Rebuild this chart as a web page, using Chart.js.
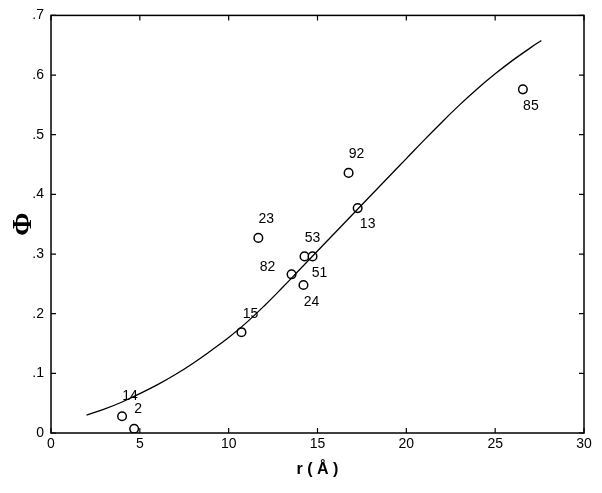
<!DOCTYPE html>
<html>
<head>
<meta charset="utf-8">
<script src="https://cdn.jsdelivr.net/npm/chart.js@4/dist/chart.umd.min.js"></script>
<style>
html,body{margin:0;padding:0;background:#fff;}
#wrap{width:602px;height:493px;}
</style>
</head>
<body>
<div id="wrap"><canvas id="c" width="602" height="493"></canvas></div>
<script>
// ---- data ----
const pointLabels = ["14", "2", "15", "23", "82", "53", "51", "24", "92", "13", "85"];
const pointR      = [4.0, 4.68, 10.72, 11.67, 13.54, 14.27, 14.72, 14.21, 16.75, 17.26, 26.56];
const pointPhi    = [0.028, 0.007, 0.169, 0.327, 0.266, 0.296, 0.296, 0.248, 0.436, 0.377, 0.576];

const curveR   = [2, 3, 4, 5, 6, 7, 8, 9, 10, 11, 12, 13, 14, 15, 16, 17, 18, 19, 20, 21, 22, 23, 24, 25, 26, 27, 27.6];
const curvePhi = [0.030, 0.040, 0.052, 0.066, 0.081, 0.098, 0.117, 0.138, 0.160, 0.185, 0.213, 0.243, 0.274, 0.305, 0.336, 0.367, 0.398, 0.429, 0.460, 0.491, 0.521, 0.550, 0.577, 0.602, 0.625, 0.646, 0.658];

const xTicks = [0, 5, 10, 15, 20, 25, 30];
const yTicks = [0, 0.1, 0.2, 0.3, 0.4, 0.5, 0.6, 0.7];
const yTickLabels = ["0", ".1", ".2", ".3", ".4", ".5", ".6", ".7"];

// label offsets in pixels (drawing layout, not data)
const labelOffsets = [[8,-20],[4,-20],[9,-18],[8,-19],[-24,-7],[8,-18],[7,17],[8,17],[8,-19],[10,16],[8,17]];

Chart.defaults.font.family = "'Liberation Sans', Arial, sans-serif";
Chart.defaults.color = "#000";

const frame = {
  id: 'frame',
  afterDraw(chart) {
    const {ctx, chartArea: a, scales: {x, y}} = chart;
    ctx.save();
    ctx.strokeStyle = '#000';
    ctx.lineWidth = 1.5;
    ctx.strokeRect(a.left, a.top, a.right - a.left, a.bottom - a.top);
    ctx.lineWidth = 1.2;
    ctx.beginPath();
    const tl = 5;
    xTicks.forEach(v => {
      const px = x.getPixelForValue(v);
      ctx.moveTo(px, a.bottom); ctx.lineTo(px, a.bottom - tl);
      ctx.moveTo(px, a.top); ctx.lineTo(px, a.top + tl);
    });
    yTicks.forEach(v => {
      const py = y.getPixelForValue(v);
      ctx.moveTo(a.left, py); ctx.lineTo(a.left + tl, py);
      ctx.moveTo(a.right, py); ctx.lineTo(a.right - tl, py);
    });
    ctx.stroke();
    // point labels
    ctx.fillStyle = '#000';
    ctx.font = "14px 'Liberation Sans', Arial, sans-serif";
    ctx.textAlign = 'center';
    ctx.textBaseline = 'middle';
    pointLabels.forEach((t, i) => {
      const px = x.getPixelForValue(pointR[i]) + labelOffsets[i][0];
      const py = y.getPixelForValue(pointPhi[i]) + labelOffsets[i][1];
      ctx.fillText(t, px, py);
    });
    ctx.restore();
  }
};

new Chart(document.getElementById('c'), {
  type: 'scatter',
  data: {
    datasets: [
      {
        type: 'line',
        data: curveR.map((r, i) => ({x: r, y: curvePhi[i]})),
        borderColor: '#000',
        borderWidth: 1.3,
        pointRadius: 0,
        fill: false,
        tension: 0.4
      },
      {
        data: pointR.map((r, i) => ({x: r, y: pointPhi[i]})),
        borderColor: '#000',
        backgroundColor: '#fff',
        borderWidth: 1.5,
        pointRadius: 4.3,
        pointHoverRadius: 4.3
      }
    ]
  },
  options: {
    responsive: false,
    animation: false,
    events: [],
    layout: {padding: {left: 0, top: 15, right: 18, bottom: 0}},
    plugins: {legend: {display: false}, tooltip: {enabled: false}},
    scales: {
      x: {
        type: 'linear', min: 0, max: 30,
        afterBuildTicks: s => { s.ticks = xTicks.map(v => ({value: v})); },
        afterFit: s => { s.height = 60; },
        grid: {display: false, drawTicks: false},
        border: {display: false},
        ticks: {padding: 3, font: {size: 14}, maxRotation: 0, autoSkip: false},
        title: {display: true, text: 'r ( Å )', font: {size: 16, weight: 'bold'}, padding: {top: 0, bottom: 14}}
      },
      y: {
        type: 'linear', min: 0, max: 0.7,
        afterBuildTicks: s => { s.ticks = yTicks.map(v => ({value: v})); },
        afterFit: s => { s.width = 51; },
        grid: {display: false, drawTicks: false},
        border: {display: false},
        ticks: {padding: 7, font: {size: 14}, autoSkip: false,
          callback: (v) => { const i = yTicks.findIndex(t => Math.abs(t - v) < 1e-9); return i >= 0 ? yTickLabels[i] : ''; }},
        title: {display: true, text: 'Φ', font: {size: 28, family: "'Liberation Serif', serif", weight: 'bold'}, padding: {top: 7, bottom: 0}}
      }
    }
  },
  plugins: [frame]
});
</script>
</body>
</html>
